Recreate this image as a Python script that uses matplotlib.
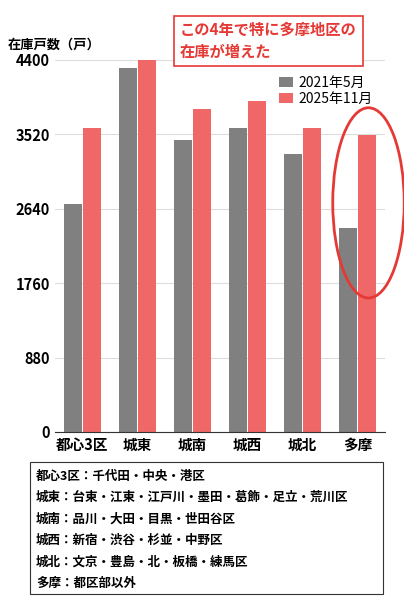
import matplotlib
matplotlib.use("Agg")
import matplotlib.pyplot as plt
from matplotlib.patches import Ellipse, FancyBboxPatch
import numpy as np

plt.rcParams['font.family'] = ['Noto Sans CJK JP', 'DejaVu Sans']

categories = ["都心3区", "城東", "城南", "城西", "城北", "多摩"]
s2021 = [2700, 4300, 3450, 3590, 3290, 2410]
s2025 = [3590, 4410, 3820, 3910, 3590, 3510]
yticks = [0, 880, 1760, 2640, 3520, 4400]
notes = ["都心3区：千代田・中央・港区",
         "城東：台東・江東・江戸川・墨田・葛飾・足立・荒川区",
         "城南：品川・大田・目黒・世田谷区",
         "城西：新宿・渋谷・杉並・中野区",
         "城北：文京・豊島・北・板橋・練馬区",
         "多摩：都区部以外"]

W, H = 404, 600
fig = plt.figure(figsize=(W/100, H/100), dpi=100)
ax = fig.add_axes([55/W, 1-432/H, 330/W, 372/H])
x = np.arange(len(categories))
w = 0.33
gray, red = "#808080", "#ef6767"
ax.bar(x - w/2 - 0.01, s2021, w, color=gray, label="2021年5月")
ax.bar(x + w/2 + 0.01, s2025, w, color=red, label="2025年11月")
ax.set_ylim(0, 4400)
ax.set_xlim(-0.5, 5.5)
ax.set_yticks(yticks)
ax.set_yticklabels([str(v) for v in yticks], fontsize=10.5, fontweight='bold')
ax.set_xticks(x)
ax.set_xticklabels(categories, fontsize=10.5, fontweight='bold')
ax.grid(axis='y', color='#dddddd', lw=0.8)
ax.set_axisbelow(True)
for s in ['top', 'right', 'left']:
    ax.spines[s].set_visible(False)
ax.spines['bottom'].set_color('#333333')
ax.tick_params(length=0)
ax.legend(loc='upper right', bbox_to_anchor=(1.0, 0.99), frameon=False,
          fontsize=10, handlelength=1.0, handletextpad=0.4, labelspacing=0.1)
ax.add_patch(Ellipse((5.2, 2710), 1.3, 2250, fill=False, ec="#e53935", lw=2, clip_on=False))

fig.text(8/W, 1-45/H, "在庫戸数（戸）", fontsize=9.5, fontweight='bold', va='center')
fig.text(180/W, 1-41/H, "この4年で特に多摩地区の\n在庫が増えた", fontsize=11,
         fontweight='bold', color="#e53935", va='center', linespacing=1.5,
         bbox=dict(boxstyle='square,pad=0.4', fc='white', ec='#e53935', lw=1.2))

fig.patches.append(FancyBboxPatch((30/W, 1-594/H), 353/W, 132/H, boxstyle='square,pad=0',
                                  transform=fig.transFigure, fill=False, ec='#333333', lw=0.8))
for i, n in enumerate(notes):
    fig.text(36/W, 1-(476+i*21.5)/H, n, fontsize=9, fontweight='bold', va='center')

fig.savefig("out.png", dpi=100)
